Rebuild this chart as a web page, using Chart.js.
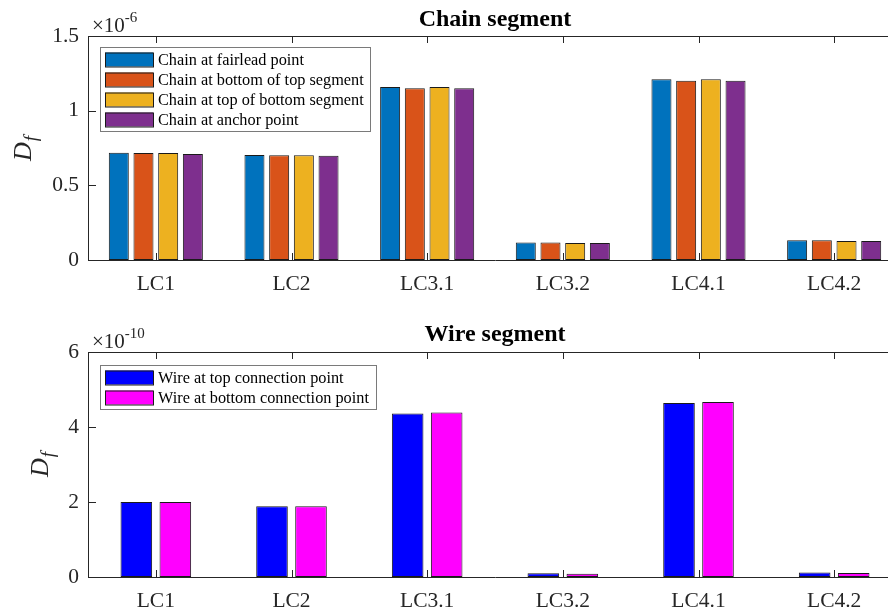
<!DOCTYPE html>
<html>
<head>
<meta charset="utf-8">
<script src="https://cdn.jsdelivr.net/npm/chart.js@4.4.1/dist/chart.umd.min.js"></script>
<style>
  html, body { margin: 0; padding: 0; background: #fff; width: 888px; height: 613px; overflow: hidden; }
  .wrap { position: absolute; left: 0; width: 920px; }
  #w1 { top: 0; height: 300px; }
  #w2 { top: 300px; height: 313px; }
</style>
</head>
<body>
<div class="wrap" id="w1"><canvas id="c1" width="920" height="300"></canvas></div>
<div class="wrap" id="w2"><canvas id="c2" width="920" height="313"></canvas></div>
<script>
// ---- data (values in units of 10^exp) ----
const categories = ['LC1', 'LC2', 'LC3.1', 'LC3.2', 'LC4.1', 'LC4.2'];

const chainExp = '-6';
const chainTicks = [0, 0.5, 1, 1.5];
const chainFairlead    = [0.718, 0.703, 1.158, 0.118, 1.210, 0.132];
const chainBottomOfTop = [0.716, 0.702, 1.150, 0.118, 1.200, 0.132];
const chainTopOfBottom = [0.716, 0.702, 1.158, 0.114, 1.210, 0.127];
const chainAnchor      = [0.710, 0.698, 1.150, 0.114, 1.200, 0.127];

const wireExp = '-10';
const wireTicks = [0, 2, 4, 6];
const wireTop    = [2.00, 1.89, 4.36, 0.10, 4.64, 0.12];
const wireBottom = [2.00, 1.89, 4.39, 0.09, 4.67, 0.11];

const SERIF = '"Liberation Serif", "Times New Roman", serif';
const TXT = '#262626';

function makePlugin(cfg) {
  return {
    id: 'decor_' + cfg.id,
    afterDatasetsDraw(chart) {
      const ctx = chart.ctx;
      const a = chart.chartArea;
      const xs = chart.scales.x;
      const ys = chart.scales.y;
      ctx.save();
      ctx.strokeStyle = TXT;
      ctx.lineWidth = 1;
      // top border
      ctx.beginPath();
      ctx.moveTo(a.left, a.top + 0.5);
      ctx.lineTo(a.right, a.top + 0.5);
      ctx.stroke();
      // inward ticks on category axis (top & bottom)
      ctx.beginPath();
      for (let i = 0; i < xs.ticks.length; i++) {
        const x = Math.round(xs.getPixelForTick(i)) + 0.5;
        ctx.moveTo(x, a.top); ctx.lineTo(x, a.top + 7);
        ctx.moveTo(x, a.bottom); ctx.lineTo(x, a.bottom - 7);
      }
      // inward ticks on value axis
      for (let i = 0; i < ys.ticks.length; i++) {
        const y = Math.round(ys.getPixelForTick(i)) + 0.5;
        ctx.moveTo(a.left, y); ctx.lineTo(a.left + 8, y);
      }
      ctx.stroke();
      ctx.restore();
    },
    afterDraw(chart) {
      const ctx = chart.ctx;
      const a = chart.chartArea;
      ctx.save();
      // title
      ctx.fillStyle = '#000';
      ctx.font = 'bold 24px ' + SERIF;
      ctx.textAlign = 'center';
      ctx.textBaseline = 'alphabetic';
      ctx.fillText(cfg.title, (a.left + a.right) / 2, cfg.titleY);
      // exponent
      ctx.fillStyle = TXT;
      ctx.textAlign = 'left';
      ctx.font = '21px ' + SERIF;
      ctx.fillText('\u00d710', a.left + 4, a.top - 4);
      const w = ctx.measureText('\u00d710').width;
      ctx.font = '15px ' + SERIF;
      ctx.fillText(cfg.exp, a.left + 4 + w, a.top - 14);
      // y label D_f (rotated)
      ctx.translate(cfg.ylabX, cfg.ylabY);
      ctx.rotate(-Math.PI / 2);
      ctx.font = 'italic 26px ' + SERIF;
      ctx.textAlign = 'left';
      ctx.fillText('D', 0, 0);
      const dw = ctx.measureText('D').width;
      ctx.font = 'italic 19px ' + SERIF;
      ctx.fillText('f', dw + 1, 6);
      ctx.restore();

      // legend
      ctx.save();
      const L = cfg.legend;
      ctx.fillStyle = '#fff';
      ctx.fillRect(L.x, L.y, L.w, L.h);
      ctx.strokeStyle = '#7a7a7a';
      ctx.lineWidth = 1;
      ctx.strokeRect(L.x + 0.5, L.y + 0.5, L.w, L.h);
      ctx.font = '16.3px ' + SERIF;
      ctx.textBaseline = 'middle';
      chart.data.datasets.forEach((ds, i) => {
        const cy = L.y + L.first + i * L.step;
        ctx.fillStyle = ds.backgroundColor;
        ctx.fillRect(L.x + 5, cy - 7, 48, 14);
        ctx.strokeStyle = '#1a1a1a';
        ctx.strokeRect(L.x + 5.5, cy - 6.5, 48, 14);
        ctx.fillStyle = '#000';
        ctx.fillText(ds.label, L.x + 58, cy + 1);
      });
      ctx.restore();
    }
  };
}

function buildChart(canvasId, cfg) {
  const datasets = cfg.series.map(s => ({
    label: s.label,
    data: s.data,
    backgroundColor: s.color,
    borderColor: '#1a1a1a',
    borderWidth: 1,
    borderSkipped: false,
    categoryPercentage: cfg.catPct,
    barPercentage: cfg.barPct
  }));
  return new Chart(document.getElementById(canvasId), {
    type: 'bar',
    data: { labels: categories, datasets },
    options: {
      responsive: false,
      animation: false,
      devicePixelRatio: 1,
      layout: { padding: { top: cfg.padTop, right: 18, left: 0, bottom: 0 } },
      plugins: { legend: { display: false }, title: { display: false }, tooltip: { enabled: false } },
      scales: {
        x: {
          type: 'category',
          offset: true,
          grid: { display: false, drawTicks: false },
          border: { display: true, color: TXT, width: 1 },
          ticks: { color: TXT, font: { family: SERIF, size: 21.5 }, padding: 11, maxRotation: 0 },
          afterFit(s) { s.height = cfg.xHeight; }
        },
        y: {
          min: cfg.ticks[0],
          max: cfg.ticks[cfg.ticks.length - 1],
          afterBuildTicks(s) { s.ticks = cfg.ticks.map(v => ({ value: v })); },
          grid: { display: false, drawTicks: false },
          border: { display: true, color: TXT, width: 1 },
          ticks: { color: TXT, font: { family: SERIF, size: 21.5 }, padding: 9,
                   callback: v => String(v) },
          afterFit(s) { s.width = 88; }
        }
      }
    },
    plugins: [makePlugin(cfg)]
  });
}

buildChart('c1', {
  id: 'chain',
  title: 'Chain segment',
  titleY: 26,
  exp: chainExp,
  ticks: chainTicks,
  padTop: 36,
  xHeight: 40,
  catPct: 0.728,
  barPct: 0.81,
  ylabX: 31, ylabY: 161,
  legend: { x: 100, y: 47, w: 270, h: 84, first: 12.5, step: 20 },
  series: [
    { label: 'Chain at fairlead point', data: chainFairlead, color: '#0072BD' },
    { label: 'Chain at bottom of top segment', data: chainBottomOfTop, color: '#D95319' },
    { label: 'Chain at top of bottom segment', data: chainTopOfBottom, color: '#EDB120' },
    { label: 'Chain at anchor point', data: chainAnchor, color: '#7E2F8E' }
  ]
});

buildChart('c2', {
  id: 'wire',
  title: 'Wire segment',
  titleY: 41,
  exp: wireExp,
  ticks: wireTicks,
  padTop: 52,
  xHeight: 36,
  catPct: 0.575,
  barPct: 0.81,
  ylabX: 48, ylabY: 177,
  legend: { x: 100, y: 65, w: 276, h: 44, first: 12.5, step: 20 },
  series: [
    { label: 'Wire at top connection point', data: wireTop, color: '#0000FF' },
    { label: 'Wire at bottom connection point', data: wireBottom, color: '#FF00FF' }
  ]
});
</script>
</body>
</html>
